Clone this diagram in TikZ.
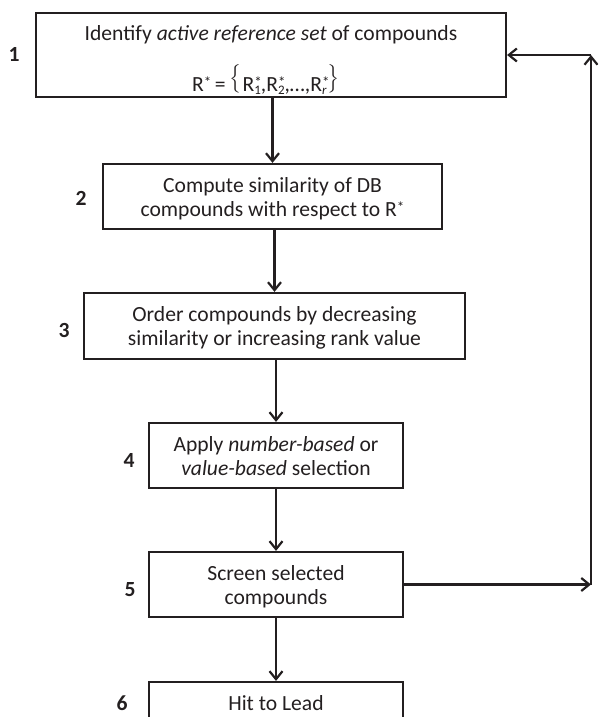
\documentclass[tikz,border=0pt]{standalone}
\usepackage{fontspec}
\usepackage{graphicx}
\usepackage{exscale}
\setmainfont{Carlito}
\usetikzlibrary{arrows.meta}
\definecolor{ink}{RGB}{35,31,32}
\newcommand\boxfont{\fontsize{21.6}{24}\selectfont}
\newcommand\starmark{\raisebox{4pt}{\fontsize{15}{15}\selectfont *}}
\newcommand\Rstar{R\starmark}
\newcommand\Rsub[1]{R\makebox[0pt][l]{\starmark}\raisebox{-2.5pt}{\fontsize{13}{13}\selectfont #1}}
\newcommand\lbrc{\raisebox{6.5pt}{\scalebox{1}[1.15]{$\left\{\vrule height 8pt depth 8pt width 0pt\right.$}}}
\newcommand\rbrc{\raisebox{6.5pt}{\scalebox{1}[1.15]{$\left.\vrule height 8pt depth 8pt width 0pt\right\}$}}}
\begin{document}
\begin{tikzpicture}[x=1pt,y=-1pt,
  stepbox/.style={draw=ink, line width=2.2pt, inner sep=0pt, minimum height=65pt},
  txt/.style={anchor=base, inner sep=0pt, text=ink, font=\boxfont},
  num/.style={inner sep=0pt, text=ink, font=\boxfont\bfseries},
  arr/.style={draw=ink, line width=2.2pt, -{Straight Barb[length=8pt,width=13pt]}}]
\useasboundingbox (0,0) rectangle (598,717);
\clip (0,0) rectangle (598,717);

% process boxes
\node[stepbox, minimum width=470pt, minimum height=84pt] (b1) at (271,55) {};
\node[stepbox, minimum width=339pt] (b2) at (272.5,196.5) {};
\node[stepbox, minimum width=381pt, minimum height=66pt] (b3) at (274.5,326) {};
\node[stepbox, minimum width=254pt] (b4) at (276,455.5) {};
\node[stepbox, minimum width=254pt] (b5) at (276,584.5) {};
\node[stepbox, minimum width=254pt] (b6) at (276,714.5) {};

% box texts
\node[txt] (t1a) at (271,41) {Identify \textit{active reference set} of compounds};
\node[txt] (t1b) at (266,91.5) {\Rstar\,=\,\lbrc\Rsub{1},\Rsub{2},…,\Rsub{\textit{r}}\rbrc};
\node[txt] (t2a) at (272.5,192.5) {Compute similarity of DB};
\node[txt] (t2b) at (272.5,216.5) {compounds with respect to \Rstar};
\node[txt] (t3a) at (274.5,321.8) {Order compounds by decreasing};
\node[txt] (t3b) at (274.5,345.8) {similarity or increasing rank value};
\node[txt] (t4a) at (276,451.7) {Apply \textit{number-based} or};
\node[txt] (t4b) at (276,475.7) {\textit{value-based} selection};
\node[txt] (t5a) at (276,580.7) {Screen selected};
\node[txt] (t5b) at (276,604.7) {compounds};
\node[txt] (t6a) at (276,710.7) {Hit to Lead};

% step numbers
\node[num] (n1) at (14,54) {1};
\node[num] (n2) at (81,198) {2};
\node[num] (n3) at (64,330) {3};
\node[num] (n4) at (129,460) {4};
\node[num] (n5) at (130,590) {5};
\node[num] (n6) at (122,703) {6};

% main flow
\draw[arr] (b1.south -| b2.north) -- (b2.north);
\draw[arr] (b2.south -| b3.north) -- (b3.north);
\draw[arr] (b3.south -| b4.north) -- (b4.north);
\draw[arr] (b4.south) -- (b5.north);
\draw[arr] (b5.south) -- (b6.north);

% feedback loop
\coordinate (rb) at (591,584.5);
\coordinate (rt) at (591,55);
\draw[arr] (b5.east) -- (rb);
\draw[arr] (rb) -- (rt);
\draw[arr] (rt) -- (b1.east);
\end{tikzpicture}
\end{document}
